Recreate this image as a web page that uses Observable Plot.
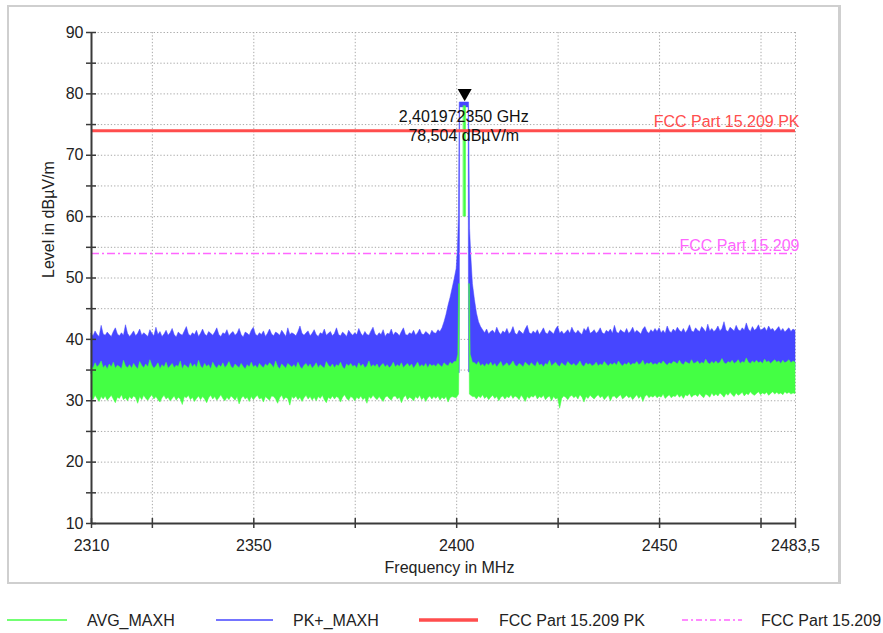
<!DOCTYPE html>
<html>
<head>
<meta charset="utf-8">
<script src="https://cdn.jsdelivr.net/npm/d3@7"></script>
<script src="https://cdn.jsdelivr.net/npm/@observablehq/plot@0.6"></script>
<style>
  html, body { margin: 0; padding: 0; background: #fff; }
  #page { position: relative; width: 883px; height: 633px; overflow: hidden; font-family: 'Liberation Sans', Arial, sans-serif; }
  #frame { position: absolute; left: 7px; top: 5px; width: 834px; height: 579px; box-sizing: border-box; border: 2px solid #cfcfcf; border-right-width: 3px; }
  #chart { position: absolute; left: 0; top: 0; }
  #legend { position: absolute; left: 0; top: 605px; }
</style>
</head>
<body>
<div id="page">
  <div id="frame"></div>
  <div id="chart"></div>
  <svg id="legend" width="883" height="30"></svg>
</div>
<script>
// ---------- data ----------
const xLabel = "Frequency in MHz";
const yLabel = "Level in dBµV/m";
const xTicks = [2310, 2325, 2350, 2375, 2400, 2425, 2450, 2475, 2483.5];
const xTickLabels = [2310, 2350, 2400, 2450, 2483.5];
const yTicks = [10, 15, 20, 25, 30, 35, 40, 45, 50, 55, 60, 65, 70, 75, 80, 85, 90];
const yTickLabels = [10, 20, 30, 40, 50, 60, 70, 80, 90];

// sweep sample frequencies (MHz): 0.5 MHz bins, 2310 ... 2483.5
const freqMHz = d3.range(2310, 2484, 0.5);

// PK+_MAXH envelope (upper / lower edge of trace band); null = see peak detail
const pkHi = [
 40.9,40.5,41.3,40.7,40.4,42.2,40.8,40.6,41.1,40.7,
 40.4,41.2,41.8,40.8,40.5,41.0,40.6,42.3,40.9,40.4,
 40.8,41.3,40.5,40.9,41.6,40.6,41.0,40.7,40.4,41.5,
 40.9,40.5,41.9,40.7,41.2,40.4,40.8,41.4,40.6,41.0,
 41.7,40.7,40.3,41.1,40.8,40.6,41.3,42.0,40.8,40.5,
 41.0,40.7,41.4,40.4,40.9,41.6,40.8,40.5,41.2,40.9,
 40.6,41.1,41.8,40.7,40.4,41.0,40.8,41.5,40.5,40.9,
 41.2,40.6,40.9,41.7,40.7,40.3,41.1,40.9,40.6,41.4,
 41.9,40.8,40.5,41.0,40.7,41.3,40.4,40.9,41.6,40.8,
 40.5,41.1,40.9,40.6,41.4,40.9,40.4,41.8,40.7,41.0,
 40.8,40.5,41.2,42.1,40.9,40.6,41.0,41.3,40.5,40.9,
 41.5,40.7,40.4,41.0,40.8,41.6,40.6,40.9,41.2,40.5,
 40.9,41.8,40.7,40.5,41.1,40.8,40.4,41.4,40.9,40.6,
 41.0,40.7,41.7,40.9,40.5,41.2,40.7,40.6,41.3,41.9,
 40.8,40.5,41.0,40.7,41.5,40.4,40.9,40.8,41.6,40.6,
 41.1,40.9,40.5,41.2,41.8,40.7,40.6,41.0,40.8,41.4,
 40.6,41.0,41.6,40.8,40.7,41.2,40.9,40.6,41.4,41.0,
 40.9,41.5,41.2,41.8,42.8,44.0,45.5,46.8,48.3,49.8,
 null,null,null,null,null,null,null,null,null,
 46.4,44.2,42.8,42.0,41.5,41.0,41.6,40.8,41.2,
 41.4,40.9,41.9,41.1,40.7,41.3,41.0,41.7,40.8,41.2,
 42.0,40.9,40.7,41.4,41.1,40.8,41.6,42.2,41.0,40.8,
 41.3,40.9,41.5,40.7,41.2,41.8,41.0,40.8,41.4,41.1,
 40.8,41.6,42.1,40.9,41.3,40.8,41.1,41.5,40.9,41.9,
 41.2,40.9,41.4,41.0,40.7,41.7,41.3,42.0,40.9,41.1,
 41.5,40.9,41.2,41.8,41.0,40.8,41.4,41.1,41.6,40.9,
 42.2,41.1,40.9,41.5,41.2,41.0,41.7,40.9,41.3,41.9,
 41.0,41.4,41.1,40.8,41.6,42.0,41.2,40.9,41.5,41.1,
 41.7,41.2,41.8,41.0,41.4,40.9,42.1,41.3,41.0,41.6,
 41.2,41.9,41.4,41.1,41.7,41.0,41.5,42.3,41.3,41.1,
 41.8,41.4,41.2,42.0,41.6,41.1,42.4,41.3,41.7,41.2,
 41.5,42.1,41.3,41.7,42.8,41.4,41.2,41.9,41.6,41.3,
 42.2,41.5,41.3,41.8,41.4,42.6,41.6,41.2,42.0,41.4,
 41.7,42.3,41.4,41.6,41.9,41.3,42.1,41.5,41.7,41.2,
 41.6,42.0,41.3,41.7,41.1,41.5,41.8,41.2,41.6,41.4
];
const pkLo = [
 34.4,34.7,34.2,34.6,34.9,34.3,34.6,34.4,34.8,34.1,
 34.5,34.8,34.3,34.6,34.2,34.7,34.4,34.9,34.3,34.5,
 34.7,34.2,34.6,34.4,34.8,34.1,34.5,34.7,34.3,34.6,
 34.3,34.6,34.9,34.2,34.5,34.7,34.4,34.1,34.6,34.8,
 34.6,34.3,34.5,34.8,34.2,34.6,34.9,34.4,34.7,34.3,
 34.5,34.8,34.2,34.4,34.7,34.3,34.6,34.8,34.1,34.5,
 34.8,34.4,34.7,34.3,34.5,34.9,34.2,34.6,34.4,34.7,
 34.2,34.5,34.8,34.6,34.3,34.7,34.4,34.2,34.8,34.5,
 34.6,34.3,34.5,34.9,34.4,34.6,34.1,34.7,34.5,34.3,
 34.7,34.5,34.2,34.6,34.8,34.3,34.5,34.9,34.4,34.6,
 34.3,34.8,34.6,34.2,34.5,34.7,34.4,34.6,34.8,34.2,
 34.5,34.2,34.7,34.4,34.9,34.3,34.6,34.5,34.2,34.8,
 34.6,34.4,34.3,34.8,34.5,34.1,34.7,34.4,34.6,34.9,
 34.4,34.7,34.5,34.2,34.6,34.8,34.3,34.5,34.7,34.4,
 34.8,34.3,34.6,34.5,34.2,34.7,34.9,34.4,34.3,34.6,
 34.5,34.7,34.4,34.8,34.6,34.2,34.5,34.7,34.4,34.8,
 34.3,34.6,34.8,34.4,34.7,34.5,34.2,34.6,34.8,34.5,
 34.6,34.4,34.7,34.3,34.5,34.8,34.6,34.4,34.7,34.5,
 null,null,null,null,null,null,null,null,null,
 34.6,34.4,34.7,34.5,34.8,34.3,34.6,34.7,34.4,
 34.7,34.5,34.9,34.4,34.6,34.8,34.3,34.7,34.5,34.9,
 34.6,34.8,34.4,34.7,34.5,34.9,34.6,34.3,34.8,34.5,
 34.8,34.4,34.7,34.6,34.9,34.5,34.7,34.4,34.6,34.8,
 34.5,34.9,34.6,34.4,34.8,34.7,34.5,34.9,34.6,34.4,
 34.7,34.5,34.8,34.6,34.4,34.9,34.7,34.5,34.8,34.6,
 34.9,34.6,34.4,34.8,34.7,34.5,34.9,34.6,34.7,34.5,
 34.6,34.8,34.7,34.5,34.9,34.6,34.4,34.8,34.7,34.9,
 34.8,34.5,34.9,34.7,34.6,34.8,34.5,34.9,34.6,34.7,
 34.7,34.9,34.6,34.8,34.5,34.7,34.9,34.6,34.8,34.5,
 34.9,34.7,34.8,34.6,34.9,34.5,34.8,34.7,34.9,34.6,
 34.8,35.0,34.7,34.9,34.6,34.8,35.0,34.7,34.9,34.8,
 35.0,34.8,34.9,34.7,35.1,34.8,34.9,35.0,34.7,34.9,
 34.9,35.1,34.8,35.0,34.9,35.2,34.8,35.0,35.1,34.9,
 35.0,34.9,35.2,35.0,34.8,35.1,35.0,34.9,35.2,35.0,
 35.1,34.9,35.0,35.2,35.0,34.9,35.1,35.0,35.2,35.0
];
// AVG_MAXH envelope
const avgHi = [
 35.6,35.2,36.1,35.4,35.8,36.4,35.3,35.7,35.1,35.9,
 35.4,36.2,35.2,35.7,35.5,35.1,36.5,35.6,35.3,35.8,
 35.2,36.0,35.5,35.1,36.3,35.7,35.3,35.9,35.4,36.6,
 35.7,35.2,35.6,36.1,35.1,35.8,35.4,36.2,35.2,35.6,
 36.0,35.3,35.7,35.5,36.4,35.1,35.8,35.6,35.2,36.1,
 35.4,35.9,35.3,36.5,35.6,35.2,36.0,35.5,35.8,35.1,
 36.2,35.6,35.2,35.8,35.4,36.1,35.3,35.7,36.3,35.5,
 35.2,35.9,35.6,35.3,36.0,35.5,35.1,35.8,35.4,36.2,
 35.4,35.7,35.2,36.0,35.6,35.3,35.9,35.6,36.1,35.8,
 35.3,36.4,35.5,35.1,35.9,35.6,35.2,36.0,35.7,35.4,
 35.8,35.3,36.2,35.5,35.1,35.7,36.0,35.4,35.9,35.2,
 35.6,36.1,35.3,35.8,35.5,35.2,36.3,35.7,35.4,35.9,
 35.3,35.8,35.6,36.2,35.4,35.1,35.9,35.6,36.0,35.5,
 35.7,35.2,36.1,35.5,35.9,35.3,35.6,36.4,35.4,35.8,
 35.5,35.9,35.2,35.7,36.0,35.4,35.8,35.3,35.6,36.2,
 35.4,35.8,35.5,36.1,35.3,35.7,36.0,35.5,35.9,35.2,
 35.7,36.2,35.4,35.8,35.5,36.0,35.3,35.9,35.6,35.8,
 35.5,36.0,35.7,35.4,36.1,35.8,35.6,36.2,35.9,36.3,
 null,null,null,null,null,null,null,null,null,
 36.1,35.8,36.3,35.6,35.9,35.5,36.0,35.7,36.2,
 35.6,36.0,35.4,35.9,36.3,35.5,35.8,36.1,35.6,35.9,
 36.4,35.7,35.5,36.0,35.8,35.4,36.2,35.9,35.6,36.1,
 35.8,35.5,36.3,35.7,35.9,35.4,36.0,35.8,36.5,35.6,
 35.9,36.2,35.7,35.5,36.1,35.8,35.6,36.3,35.9,35.7,
 36.0,35.6,35.9,36.4,35.7,35.5,36.1,35.8,36.0,35.6,
 35.8,36.2,35.6,35.9,35.7,36.3,35.9,35.6,36.0,35.8,
 36.1,35.7,36.4,35.9,35.6,36.0,35.8,36.2,35.7,36.0,
 35.9,36.3,35.8,36.0,36.5,35.7,36.1,35.9,36.2,35.8,
 36.0,35.8,36.2,35.9,36.4,36.0,35.7,36.1,35.9,36.3,
 36.2,35.9,36.5,36.0,35.8,36.3,36.1,35.9,36.6,36.0,
 36.1,36.4,35.9,36.2,36.0,36.7,36.1,35.9,36.3,36.0,
 36.4,36.0,36.2,36.8,36.1,35.9,36.3,36.1,36.5,36.0,
 36.2,36.6,36.0,36.3,36.1,36.9,36.2,36.0,36.4,36.1,
 36.5,36.1,36.3,36.0,36.7,36.2,36.4,36.0,36.3,36.6,
 36.2,36.4,36.0,36.5,36.1,36.3,36.6,36.1,36.4,36.2
];
const avgLo = [
 30.5,30.1,30.8,30.3,29.8,30.6,30.2,30.7,30.0,30.4,
 30.8,30.2,29.6,30.5,30.3,30.9,30.1,30.4,29.9,30.6,
 30.2,30.7,30.4,29.5,30.6,30.1,30.8,30.3,30.0,30.5,
 30.9,30.2,30.6,30.1,29.7,30.4,30.8,30.2,30.5,29.9,
 30.3,30.7,30.0,30.5,30.2,29.3,30.6,30.4,30.8,30.1,
 30.5,29.8,30.3,30.7,30.1,30.6,30.2,29.6,30.4,30.8,
 30.2,30.6,30.0,30.4,30.9,30.3,29.9,30.5,30.1,30.7,
 30.4,30.0,30.6,29.4,30.3,30.7,30.2,30.5,29.8,30.6,
 30.1,30.5,30.8,30.2,30.4,29.7,30.6,30.3,30.0,30.7,
 30.6,30.2,29.5,30.4,30.8,30.1,30.5,30.3,29.2,30.6,
 30.3,30.7,30.1,30.5,29.8,30.4,30.8,30.2,30.6,30.0,
 30.5,29.9,30.6,30.3,30.8,30.1,29.6,30.5,30.2,30.7,
 30.2,30.6,30.4,29.7,30.5,30.9,30.3,30.0,30.6,30.4,
 29.9,30.5,30.2,30.7,30.1,30.4,29.5,30.6,30.3,30.8,
 30.4,30.1,30.6,30.2,29.8,30.5,30.7,30.3,30.0,30.6,
 30.7,30.2,30.5,29.6,30.4,30.8,30.1,30.5,30.3,29.9,
 30.6,30.3,30.8,30.1,30.5,29.8,30.4,30.7,30.2,30.6,
 30.3,30.7,30.0,30.5,30.2,30.6,29.7,30.4,30.6,30.5,
 null,null,null,null,null,null,null,null,null,
 30.6,30.2,30.7,30.4,30.9,30.3,30.6,30.1,30.5,
 30.8,30.3,30.6,29.9,30.5,30.7,30.2,30.6,30.4,30.9,
 30.3,30.7,30.5,30.1,30.8,30.4,29.8,30.6,30.3,30.7,
 30.5,30.9,30.2,30.6,30.4,30.8,30.1,30.5,30.7,29.9,
 30.6,30.2,30.4,28.7,30.3,30.7,30.5,30.1,30.6,30.8,
 30.4,30.7,30.2,30.9,30.5,29.7,30.6,30.3,30.8,30.5,
 30.2,30.6,30.9,30.4,30.7,30.1,30.5,30.8,29.9,30.6,
 30.7,30.3,30.6,30.9,30.2,30.5,30.8,30.4,30.6,30.1,
 30.5,30.9,30.3,30.7,29.8,30.6,30.9,30.4,30.7,30.5,
 30.8,30.4,30.7,30.5,31.0,30.3,30.6,30.9,30.4,30.7,
 30.6,31.0,30.5,30.8,30.3,30.9,30.7,31.1,30.5,30.8,
 30.9,30.6,31.1,30.7,30.4,31.0,30.8,30.5,31.2,30.7,
 31.0,30.7,31.2,30.9,30.5,31.1,30.8,31.3,30.9,30.6,
 31.2,30.8,31.0,31.3,30.7,31.1,30.9,31.4,31.0,30.8,
 31.1,31.4,30.9,31.2,31.0,31.3,30.8,31.1,31.4,31.0,
 31.3,31.0,31.2,30.9,31.4,31.1,31.3,31.0,31.2,31.1
];

// peak detail around the carrier (2400 - 2404 MHz)
const pkPeakFreq = [2400.0, 2400.3, 2400.55, 2400.75, 2400.85, 2402.95, 2403.05, 2403.3, 2403.6, 2404.0];
const pkPeakHi   = [51.5,   54.5,   60.0,    78.6,    78.6,    78.6,    78.6,    58.0,   53.5,   49.0];
const pkPeakLo   = [34.6,   34.5,   34.5,    34.5,    77.8,    77.8,    34.6,    34.6,   34.7,   34.6];

const avgPeakFreq = [2400.0, 2400.4, 2400.6, 2400.8, 2400.85, 2401.7, 2401.75, 2402.3, 2402.35, 2403.0, 2403.1, 2403.25, 2403.45, 2404.0];
const avgPeakHi   = [36.3,   37.5,   49.0,   49.0,   null,    null,   78.0,    78.0,   null,    null,   49.0,   49.0,    37.5,    36.2];
const avgPeakLo   = [30.4,   30.8,   31.0,   47.0,   null,    null,   60.0,    60.0,   null,    null,   47.0,   31.0,    30.9,    30.6];

// limit lines
const limitNames  = ["FCC Part 15.209 PK", "FCC Part 15.209"];
const limitLevels = [74, 54];

// marker
const markerFreqMHz = 2401.97235;
const markerLevel = 78.504;
const markerText1 = "2,401972350 GHz";
const markerText2 = "78,504 dBµV/m";

// legend
const legendNames = ["AVG_MAXH", "PK+_MAXH", "FCC Part 15.209 PK", "FCC Part 15.209"];

// ---------- styling ----------
const C_GREEN = "#44ff44", C_BLUE = "#4646ff", C_RED = "#ff4d4d", C_MAG = "#ff66ff";
const TXT = "#222";
const AX = "#3a3a3a";
const FONT = "'Liberation Sans', Arial, sans-serif";

// ---------- build tables ----------
function buildRows(hi, lo, pf, ph, pl) {
  const rows = [];
  freqMHz.forEach((f, i) => { if (hi[i] != null) rows.push({f, hi: hi[i], lo: lo[i]}); });
  pf.forEach((f, i) => rows.push({f, hi: ph[i], lo: pl[i]}));
  rows.sort((a, b) => a.f - b.f);
  return rows;
}
const pkRows = buildRows(pkHi, pkLo, pkPeakFreq, pkPeakHi, pkPeakLo);
const avgRows = buildRows(avgHi, avgLo, avgPeakFreq, avgPeakHi, avgPeakLo);
const limits = limitNames.map((name, i) => ({name, level: limitLevels[i]}));
const fmt = d => String(d).replace(".", ",");
const xMin = xTicks[0], xMax = xTicks[xTicks.length - 1];
const yMin = yTicks[0], yMax = yTicks[yTicks.length - 1];

const grid = {stroke: "#a8a8a8", strokeWidth: 1, strokeDasharray: "1.3,2"};

const chart = Plot.plot({
  width: 883, height: 590,
  marginLeft: 91, marginRight: 88, marginTop: 32, marginBottom: 67,
  x: {domain: [xMin, xMax], axis: null},
  y: {domain: [yMin, yMax], axis: null},
  style: {fontFamily: FONT, fontSize: "16px", background: "transparent", overflow: "visible", color: TXT},
  marks: [
    // grid
    Plot.ruleY(yTicks.filter(v => v > yMin), {y: d => d, ...grid}),
    Plot.ruleX(xTicks.filter(v => v > xMin), {x: d => d, ...grid}),
    // traces
    Plot.areaY(pkRows, {x: "f", y1: "lo", y2: "hi", fill: C_BLUE, stroke: C_BLUE, strokeWidth: 0.5}),
    Plot.areaY(avgRows, {x: "f", y1: "lo", y2: "hi", fill: C_GREEN, stroke: C_GREEN, strokeWidth: 0.5}),
    // limit lines
    Plot.ruleY(limits.slice(0, 1), {y: "level", stroke: C_RED, strokeWidth: 3}),
    Plot.ruleY(limits.slice(1, 2), {y: "level", stroke: C_MAG, strokeWidth: 1.5, strokeDasharray: "8,3,2,3"}),
    Plot.text(limits.slice(0, 1), {x: xMax, y: "level", text: "name", textAnchor: "end", dx: 4, dy: -8.5, fill: C_RED, fontSize: 16}),
    Plot.text(limits.slice(1, 2), {x: xMax, y: "level", text: "name", textAnchor: "end", dx: 4, dy: -8, fill: C_MAG, fontSize: 16}),
    // axes lines
    Plot.ruleY([yMin], {y: d => d, stroke: AX, strokeWidth: 2}),
    Plot.ruleX([xMin], {x: d => d, stroke: AX, strokeWidth: 2}),
    // ticks (crossing the axis)
    Plot.ruleY(yTicks, {y: d => d, x1: xMin, x2: xMin, insetLeft: -5, insetRight: -5, stroke: AX, strokeWidth: 1.5}),
    Plot.ruleX(xTicks, {x: d => d, y1: yMin, y2: yMin, insetTop: -5, insetBottom: -5, stroke: AX, strokeWidth: 1.5}),
    // tick labels
    Plot.text(yTickLabels, {x: xMin, y: d => d, text: d => fmt(d), textAnchor: "end", dx: -8, fill: TXT, fontSize: 16}),
    Plot.text(xTickLabels, {x: d => d, y: yMin, text: d => fmt(d), dy: 22, fill: TXT, fontSize: 16}),
    // axis titles
    Plot.text([xLabel], {frameAnchor: "bottom", dy: 49, dx: 6, fill: TXT, fontSize: 16}),
    Plot.text([yLabel], {frameAnchor: "left", rotate: -90, dx: -43, fill: TXT, fontSize: 16}),
    // marker
    Plot.dot([{f: markerFreqMHz, v: markerLevel}], {x: "f", y: "v", symbol: "triangle", r: 5.2, rotate: 180, dy: -10, fill: "#000", stroke: "none"}),
    Plot.text([{f: markerFreqMHz, v: markerLevel, t: markerText1}], {x: "f", y: "v", text: "t", dy: 14, dx: -1, fill: "#111", fontSize: 16}),
    Plot.text([{f: markerFreqMHz, v: markerLevel, t: markerText2}], {x: "f", y: "v", text: "t", dy: 33, dx: -1, fill: "#111", fontSize: 16})
  ]
});
document.getElementById("chart").appendChild(chart);

// ---------- legend ----------
const lg = d3.select("#legend");
const legendItems = [
  {name: legendNames[0], color: C_GREEN, w: 1.5, dash: null, x0: 7, x1: 67, tx: 87},
  {name: legendNames[1], color: C_BLUE, w: 1.5, dash: null, x0: 216, x1: 273, tx: 293},
  {name: legendNames[2], color: C_RED, w: 3.5, dash: null, x0: 419, x1: 478, tx: 499},
  {name: legendNames[3], color: C_MAG, w: 1.5, dash: "6,3,2,3", x0: 682, x1: 742, tx: 761}
];
legendItems.forEach(it => {
  lg.append("line").attr("x1", it.x0).attr("x2", it.x1).attr("y1", 15).attr("y2", 15)
    .attr("stroke", it.color).attr("stroke-width", it.w).attr("stroke-dasharray", it.dash);
  lg.append("text").attr("x", it.tx).attr("y", 15).attr("dy", "0.35em")
    .attr("font-family", FONT).attr("font-size", 16).attr("fill", TXT).text(it.name);
});
</script>
</body>
</html>
